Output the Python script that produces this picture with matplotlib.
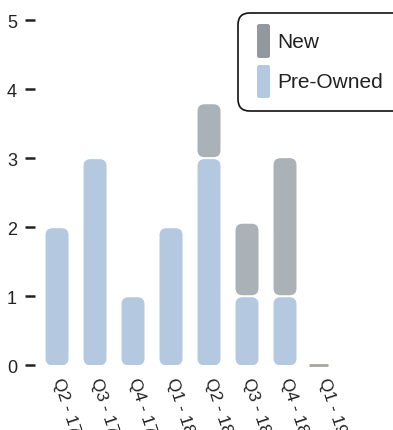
import matplotlib
matplotlib.use("Agg")
import matplotlib.pyplot as plt
from matplotlib.patches import FancyBboxPatch

plt.rcParams['font.family'] = ['Liberation Sans', 'DejaVu Sans']

quarters = ["Q2 - 17", "Q3 - 17", "Q4 - 17", "Q1 - 18", "Q2 - 18", "Q3 - 18", "Q4 - 18", "Q1 - 19"]
pre_owned = [2, 3, 1, 2, 3, 1, 1, 0]
new = [0, 0, 0, 0, 0.78, 1.05, 2.0, 0]
y_ticks = [0, 1, 2, 3, 4, 5]

color_pre = "#b4c8e0"
color_new = "#aab2b8"
color_new_key = "#9297a0"
color_zero = "#aaa5a1"
text_color = "#222222"

W, H, DPI = 393, 431, 100
fig = plt.figure(figsize=(W / DPI, H / DPI), dpi=DPI)
ax = fig.add_axes([35 / W, 1 - 366.3 / H, (342 - 35) / W, (366.3 - 21) / H])

ax.set_xlim(-0.58, 7.5)
ax.set_ylim(0, 5)
for s in ax.spines.values():
    s.set_visible(False)

# pixel scale of the data units, so rounded corners stay circular
px_x = (ax.get_xlim()[1] - ax.get_xlim()[0]) / ((342 - 35))
px_y = (ax.get_ylim()[1] - ax.get_ylim()[0]) / (366.3 - 21)
aspect = px_y / px_x
bar_w = 23 * px_x
radius = 7 * px_x
gap = 1.0 * px_y


def rounded_bar(x, y0, y1, color):
    h = y1 - y0
    if h <= 0:
        return
    r = min(radius, (h / aspect) / 2)
    p = FancyBboxPatch((x - bar_w / 2, y0), bar_w, h,
                       boxstyle=f"round,pad=0,rounding_size={r}",
                       mutation_aspect=aspect, facecolor=color,
                       edgecolor="none", linewidth=0)
    ax.add_patch(p)


for i, (p, n) in enumerate(zip(pre_owned, new)):
    if p > 0:
        rounded_bar(i, 0, p - gap, color_pre)
    if n > 0:
        rounded_bar(i, p + gap, p + n, color_new)
    if p + n == 0:
        # empty quarter: a thin baseline marker
        ax.hlines(0, i - 14 * px_x, i + 5 * px_x, color=color_zero,
                  linewidth=2, clip_on=False)

ax.set_yticks(y_ticks)
ax.set_yticklabels([str(t) for t in y_ticks], fontsize=13, color=text_color)
ax.tick_params(axis="y", length=7, width=1.8, color=text_color, pad=6)

ax.set_xticks(range(len(quarters)))
ax.set_xticklabels(quarters, rotation=-72, ha="left", va="center",
                   rotation_mode="anchor", fontsize=12.5, color=text_color)
ax.tick_params(axis="x", length=0, pad=9)

# legend box
fig.patches.append(FancyBboxPatch((238 / W, 1 - 112 / H), 170 / W, 98 / H,
                                  boxstyle="round,pad=0,rounding_size=0.03",
                                  transform=fig.transFigure, facecolor="white",
                                  edgecolor="#111111", linewidth=1.2,
                                  mutation_aspect=W / H, clip_on=False))
for (y0, y1, c, label) in [(25, 59, color_new_key, "New"), (66, 99, color_pre, "Pre-Owned")]:
    fig.patches.append(FancyBboxPatch((257 / W, 1 - y1 / H), 13 / W, (y1 - y0) / H,
                                      boxstyle="round,pad=0,rounding_size=0.006",
                                      transform=fig.transFigure, facecolor=c,
                                      edgecolor="none", mutation_aspect=W / H))
    fig.text(277 / W, 1 - ((y0 + y1) / 2) / H, label, fontsize=15,
             color=text_color, va="center", ha="left")

fig.savefig("out.png", dpi=DPI)
